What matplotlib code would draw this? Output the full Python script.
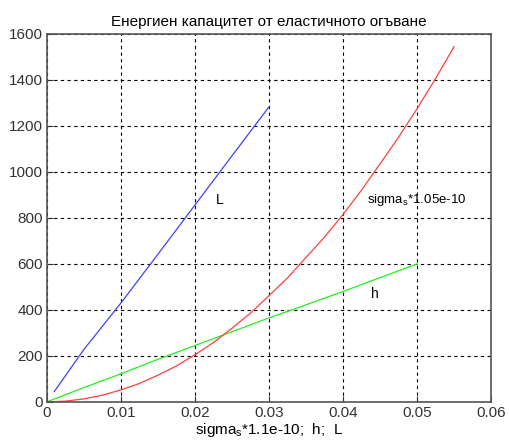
import matplotlib
matplotlib.use("Agg")
import matplotlib.pyplot as plt

plt.rcParams['font.family'] = ['Liberation Sans', 'DejaVu Sans']
plt.rcParams['mathtext.default'] = 'regular'

# values
x_L = [0.001, 0.005, 0.01, 0.015, 0.02, 0.025, 0.03]
L = [45, 228, 430, 642, 856, 1070, 1283]

x_h = [0, 0.005, 0.01, 0.015, 0.02, 0.025, 0.03, 0.035, 0.04, 0.045, 0.05]
h = [0, 62, 122, 185, 245, 305, 365, 422, 480, 540, 600]

x_s = [0, 0.0025, 0.005, 0.0075, 0.01, 0.0125, 0.015, 0.0175, 0.02, 0.0225,
       0.025, 0.0275, 0.03, 0.0325, 0.035, 0.0375, 0.04, 0.0425, 0.045,
       0.0475, 0.05, 0.0525, 0.055]
sigma = [0, 3, 13, 29, 52, 80, 116, 156, 205, 258, 320, 386, 462, 539,
         628, 717, 815, 921, 1035, 1151, 1275, 1406, 1545]

title = 'Енергиен капацитет от еластичното огъване'
xlabel = 'sigma$_s$*1.1e-10;  h;  L'

fig = plt.figure(figsize=(5.1, 4.46), dpi=100)
ax = fig.add_axes([0.092, 0.099, 0.871, 0.825])

ax.plot(x_L, L, color='#4040ff', lw=0.9)
ax.plot(x_h, h, color='#20f020', lw=0.9)
ax.plot(x_s, sigma, color='#ff4040', lw=0.9)

ax.text(0.0228, 878, 'L', fontsize=10, va='center')
ax.text(0.0432, 878, 'sigma$_s$*1.05e-10', fontsize=9.5, va='center')
ax.text(0.0438, 470, 'h', fontsize=10, va='center')

ax.set_xlim(0, 0.06)
ax.set_ylim(0, 1600)
ax.set_xticks([0, 0.01, 0.02, 0.03, 0.04, 0.05, 0.06])
ax.set_xticklabels(['0', '0.01', '0.02', '0.03', '0.04', '0.05', '0.06'])
ax.set_yticks(range(0, 1601, 200))
ax.grid(True, color='black', linestyle=(0, (3, 3)), linewidth=0.8)
ax.tick_params(direction='in', length=4, labelsize=11, colors='#333333', pad=3)
for s in ax.spines.values():
    s.set_color('#555555')
    s.set_linewidth(1.2)

ax.set_title(title, fontsize=11, pad=6)
ax.set_xlabel(xlabel, fontsize=11, labelpad=1)

fig.savefig('out.png', dpi=100)
